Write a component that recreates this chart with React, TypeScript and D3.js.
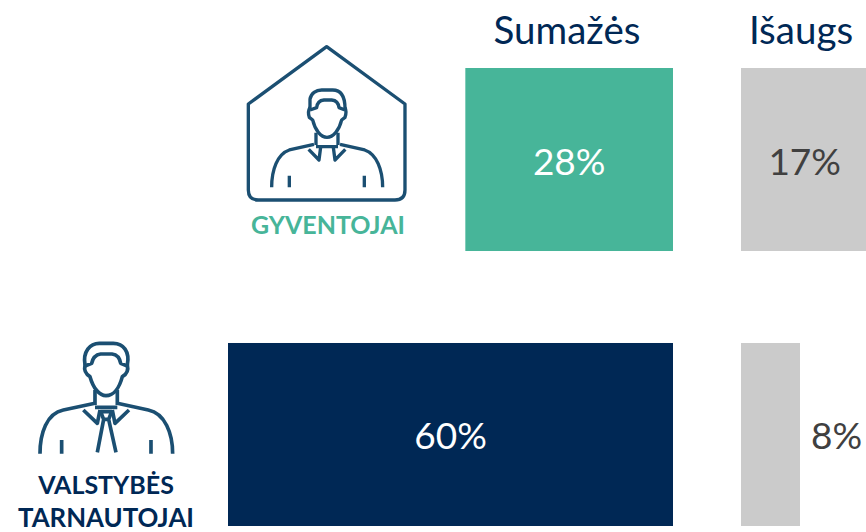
import React from 'react'
import * as d3 from 'd3'

const groups = ['GYVENTOJAI', 'VALSTYBĖS TARNAUTOJAI']
const columns = ['Sumažės', 'Išaugs']
const decrease = [28, 60]
const increase = [17, 8]

const WIDTH = 866
const HEIGHT = 532
const FONT = 'Lato, Carlito, "Open Sans", sans-serif'
const NAVY = '#002855'
const GREEN = '#47B599'
const GREY = '#CBCBCB'
const ICON = '#1B4F72'
const DARK_TEXT = '#404040'
const decreaseColors = [GREEN, NAVY]

// bars of the left column grow leftwards from a shared right edge
const xDecrease = d3.scaleLinear().domain([0, 60]).range([673, 228])
const xIncrease = d3.scaleLinear().domain([0, 8]).range([741, 800])
const y = d3.scaleBand().domain(groups).range([68, 526]).paddingInner(0.3345).paddingOuter(0)

// icons at 3x, hence the scale(1/3) wrappers
function HouseIcon() {
  const person = [
    'M240 235 L240 208 C243 190 258 180 275 180 L308 180 C330 180 345 195 345 235',
    'M240 240 L260 233 Q262 212 282 210 L305 210 Q325 212 327 233 L345 240',
    'M240 232 Q232 245 238 262 L248 270 C255 300 272 322 291 322 C310 322 328 300 335 270 L345 262 Q351 245 345 232',
    'M258 308 L258 345 M324 308 L324 345 M258 350 L324 350',
    'M125 472 C125 420 142 372 178 360 L252 343',
    'M458 472 C458 420 440 372 404 360 L330 343',
    'M236 358 L267 390 L272 352 M346 358 L315 390 L310 352',
    'M178 437 L178 472 M403 437 L403 472',
  ]
  return (
    <g transform="translate(230,30) scale(0.3333)" fill="none" stroke={ICON} strokeWidth={10}>
      <path
        d="M55 222 L290 50 L525 222 L525 480 Q525 510 495 510 L85 510 Q55 510 55 480 Z"
        strokeLinejoin="round"
      />
      {person.map((d, i) => (
        <path key={i} d={d} strokeLinejoin="round" />
      ))}
    </g>
  )
}

function OfficerIcon() {
  const person = [
    'M255 105 C248 65 270 40 298 40 L340 40 C370 40 390 65 382 105',
    'M255 108 L275 100 Q280 75 302 72 L336 72 Q358 75 362 100 L382 108',
    'M255 105 Q250 128 270 140 C280 175 298 197 318 197 C340 197 358 175 367 140 Q388 128 382 105',
    'M285 180 L285 225 M352 180 L352 225',
    'M120 371 C120 310 140 250 190 240 L285 220',
    'M518 371 C518 310 495 250 445 240 L352 220',
    'M250 240 L292 280 L300 240 M387 240 L345 280 L337 240 M285 232 L352 232',
    'M302 245 L335 245 L326 268 L311 268 Z M311 268 L292 367 M326 268 L348 367',
    'M185 330 L185 371 M453 330 L453 371',
  ]
  return (
    <g transform="translate(0,330) scale(0.3333)" fill="none" stroke={ICON} strokeWidth={11}>
      {person.map((d, i) => (
        <path key={i} d={d} strokeLinejoin="round" />
      ))}
    </g>
  )
}

export default function App() {
  const band = y.bandwidth()
  const [resident, officer] = groups
  const officerWords = officer.split(' ')

  return (
    <svg
      width={WIDTH}
      height={HEIGHT}
      style={{ position: 'absolute', left: 0, top: 0, background: '#fff' }}
      fontFamily={FONT}
    >
      <text x={567} y={44} textAnchor="middle" fontSize={38.5} fill={NAVY}>
        {columns[0]}
      </text>
      <text x={801} y={44} textAnchor="middle" fontSize={38.5} fill={NAVY}>
        {columns[1]}
      </text>

      {groups.map((g, i) => {
        const x0 = xDecrease(decrease[i])
        const x1 = xIncrease(increase[i])
        const top = y(g) as number
        const mid = top + band / 2
        const incWide = increase[i] > 8
        return (
          <g key={g}>
            <rect x={x0} y={top} width={xDecrease(0) - x0} height={band} fill={decreaseColors[i]} />
            <rect x={xIncrease(0)} y={top} width={x1 - xIncrease(0)} height={band} fill={GREY} />
            <text
              x={(x0 + xDecrease(0)) / 2}
              y={mid + 15}
              textAnchor="middle"
              fontSize={37}
              fill="#fff"
            >
              {decrease[i]}%
            </text>
            <text
              x={incWide ? (xIncrease(0) + x1) / 2 + 1 : x1 + 11}
              y={mid + 15}
              textAnchor={incWide ? 'middle' : 'start'}
              fontSize={37}
              fill={DARK_TEXT}
            >
              {increase[i]}%
            </text>
          </g>
        )
      })}

      <HouseIcon />
      <OfficerIcon />

      <text x={328} y={234} textAnchor="middle" fontSize={25} fontWeight={700} fill={GREEN}>
        {resident}
      </text>
      <text x={106} y={494} textAnchor="middle" fontSize={25} fontWeight={700} fill={NAVY}>
        {officerWords[0]}
      </text>
      <text x={106} y={527} textAnchor="middle" fontSize={25.8} fontWeight={700} fill={NAVY}>
        {officerWords[1]}
      </text>
    </svg>
  )
}
